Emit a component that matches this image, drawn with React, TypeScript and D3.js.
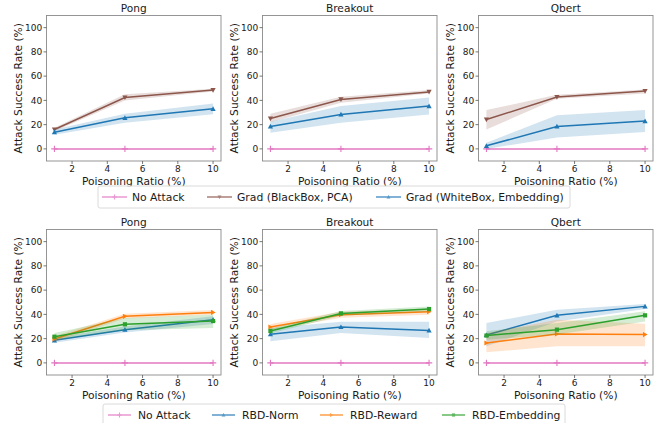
import React from "react";
import * as d3 from "d3";

const X = [1, 5, 10];
const GAMES = ["Pong", "Breakout", "Qbert"];
const X_TICKS = [2, 4, 6, 8, 10];
const Y_TICKS = [0, 20, 40, 60, 80, 100];

// Top row (Grad attacks)
const NO_ATTACK = [0, 0, 0];
const GRAD_PCA_MEAN = [[16, 42.4, 48.5], [25, 40.8, 47], [24.2, 42.7, 47.7]];
const GRAD_PCA_LO = [[14.5, 40, 47.3], [22, 38, 45.7], [16, 41.3, 45.7]];
const GRAD_PCA_HI = [[17.5, 45, 49.5], [29, 43, 48.5], [32, 44.6, 49]];
const GRAD_EMB_MEAN = [[13.8, 25.6, 33], [18.5, 28.4, 35.3], [2.5, 18.5, 22.9]];
const GRAD_EMB_LO = [[11.6, 21.5, 28.6], [13.2, 21.5, 28.4], [0, 9.4, 14]];
const GRAD_EMB_HI = [[16, 29, 37.5], [22.3, 35.3, 42.4], [5, 27.8, 32]];

// Bottom row (RBD attacks)
const RBD_NORM_MEAN = [[18.6, 27.4, 35.6], [23.6, 29.6, 26.8], [23, 39.2, 46.6]];
const RBD_NORM_LO = [[16.5, 25, 32], [17.8, 24.7, 20.5], [13.7, 34.2, 44.4]];
const RBD_NORM_HI = [[21, 30, 38.5], [28.8, 34, 34], [32.9, 43.8, 48.5]];
const RBD_REWARD_MEAN = [[19.7, 38.4, 41.6], [29.6, 39.7, 42.2], [16.4, 23.8, 23.3]];
const RBD_REWARD_LO = [[17.5, 36.5, 39.6], [27, 37.2, 39.7], [8.8, 13.7, 13.7]];
const RBD_REWARD_HI = [[22, 40.5, 43.6], [32, 42.2, 44.7], [24.7, 35.6, 32.3]];
const RBD_EMB_MEAN = [[21.6, 31.8, 34.5], [26.3, 40.8, 44.4], [22.5, 27.4, 39.2]];
const RBD_EMB_LO = [[18.6, 27, 28.8], [24.3, 38.8, 42.4], [19, 23.3, 34.2]];
const RBD_EMB_HI = [[24.6, 37, 39.7], [28.3, 42.8, 46.4], [26, 32.9, 42.5]];

type Series = { name: string; color: string; marker: string; mean: number[][]; lo: number[][] | null; hi: number[][] | null };

const TOP_SERIES: Series[] = [
  { name: "No Attack", color: "#e377c2", marker: "+", mean: [NO_ATTACK, NO_ATTACK, NO_ATTACK], lo: null, hi: null },
  { name: "Grad (BlackBox, PCA)", color: "#8c564b", marker: "v", mean: GRAD_PCA_MEAN, lo: GRAD_PCA_LO, hi: GRAD_PCA_HI },
  { name: "Grad (WhiteBox, Embedding)", color: "#1f77b4", marker: "^", mean: GRAD_EMB_MEAN, lo: GRAD_EMB_LO, hi: GRAD_EMB_HI },
];
const BOTTOM_SERIES: Series[] = [
  { name: "No Attack", color: "#e377c2", marker: "+", mean: [NO_ATTACK, NO_ATTACK, NO_ATTACK], lo: null, hi: null },
  { name: "RBD-Norm", color: "#1f77b4", marker: "^", mean: RBD_NORM_MEAN, lo: RBD_NORM_LO, hi: RBD_NORM_HI },
  { name: "RBD-Reward", color: "#ff7f0e", marker: ">", mean: RBD_REWARD_MEAN, lo: RBD_REWARD_LO, hi: RBD_REWARD_HI },
  { name: "RBD-Embedding", color: "#2ca02c", marker: "s", mean: RBD_EMB_MEAN, lo: RBD_EMB_LO, hi: RBD_EMB_HI },
];

// layout
const PANEL_LEFTS = [46.5, 262.5, 478.5];
const PANEL_W = 174.5;
const ROW_TOPS = [15.5, 229.5];
const PANEL_H = 145.5;
const FONT = "'DejaVu Sans', sans-serif";
const TEXT = "#1a1a1a";

const LEGENDS = [
  { box: [98, 186, 472, 22], handles: [102, 207, 376], hlen: 25, series: TOP_SERIES },
  { box: [103, 404, 462, 22], handles: [108, 212, 320, 442], hlen: 23, series: BOTTOM_SERIES },
];

function Marker({ type, x, y, color, k = 1 }: { type: string; x: number; y: number; color: string; k?: number }) {
  const s = 2.6 * k;
  if (type === "+") {
    const r = 3.2 * k;
    return <path d={`M${x - r},${y}H${x + r}M${x},${y - r}V${y + r}`} stroke={color} strokeWidth={1.1} fill="none" />;
  }
  if (type === "s") {
    const h = 2.1 * k;
    return <rect x={x - h} y={y - h} width={2 * h} height={2 * h} fill={color} />;
  }
  let pts: number[][] = [];
  if (type === "v") pts = [[x - s, y - s * 0.8], [x + s, y - s * 0.8], [x, y + s]];
  if (type === "^") pts = [[x - s, y + s * 0.8], [x + s, y + s * 0.8], [x, y - s]];
  if (type === ">") pts = [[x - s * 0.8, y - s], [x - s * 0.8, y + s], [x + s, y]];
  return <polygon points={pts.map((p) => p.join(",")).join(" ")} fill={color} />;
}

function Panel({ gi, row, series }: { gi: number; row: number; series: Series[] }) {
  const left = PANEL_LEFTS[gi];
  const top = ROW_TOPS[row];
  const xs = d3.scaleLinear().domain([0.55, 10.45]).range([left, left + PANEL_W]);
  const ys = d3.scaleLinear().domain([-10, 110]).range([top + PANEL_H, top]);
  const line = d3.line<number>().x((_, i) => xs(X[i])).y((d) => ys(d));
  const bottom = top + PANEL_H;
  return (
    <g>
      <defs>
        <clipPath id={`clip-${row}-${gi}`}>
          <rect x={left} y={top} width={PANEL_W} height={PANEL_H} />
        </clipPath>
      </defs>
      <g clipPath={`url(#clip-${row}-${gi})`}>
        {series.map((s, si) => {
          const lo = s.lo;
          const hi = s.hi;
          const area = lo && hi
            ? d3.area<number>().x((_, i) => xs(X[i])).y0((_, i) => ys(lo[gi][i])).y1((_, i) => ys(hi[gi][i]))(X)
            : null;
          return (
            <g key={si}>
              {area && <path d={area!} fill={s.color} fillOpacity={0.2} stroke="none" />}
              <path d={line(s.mean[gi])!} fill="none" stroke={s.color} strokeWidth={1.5} />
              {s.mean[gi].map((v, i) => (
                <Marker key={i} type={s.marker} x={xs(X[i])} y={ys(v)} color={s.color} />
              ))}
            </g>
          );
        })}
      </g>
      <rect x={left} y={top} width={PANEL_W} height={PANEL_H} fill="none" stroke="#8a8a8a" strokeWidth={0.9} />
      {X_TICKS.map((t) => (
        <g key={t}>
          <line x1={xs(t)} x2={xs(t)} y1={bottom} y2={bottom + 3} stroke="#555" strokeWidth={0.8} />
          <text x={xs(t)} y={bottom + 10.8} textAnchor="middle" fontSize={9} fill={TEXT} fontFamily={FONT}>{t}</text>
        </g>
      ))}
      {Y_TICKS.map((t) => (
        <g key={t}>
          <line x1={left - 3} x2={left} y1={ys(t)} y2={ys(t)} stroke="#555" strokeWidth={0.8} />
          <text x={left - 4.3} y={ys(t) + 3.2} textAnchor="end" fontSize={9} fill={TEXT} fontFamily={FONT}>{t}</text>
        </g>
      ))}
      <text x={left + PANEL_W / 2} y={top - 4} textAnchor="middle" fontSize={10.6} fill={TEXT} fontFamily={FONT}>{GAMES[gi]}</text>
      <text x={left + PANEL_W / 2} y={bottom + 24} textAnchor="middle" fontSize={10.7} fill={TEXT} fontFamily={FONT}>Poisoning Ratio (%)</text>
      <text transform={`translate(${left - 24.4},${top + PANEL_H / 2}) rotate(-90)`} textAnchor="middle" fontSize={10.7} fill={TEXT} fontFamily={FONT}>Attack Success Rate (%)</text>
    </g>
  );
}

function Legend({ spec }: { spec: typeof LEGENDS[number] }) {
  const [bx, by, bw, bh] = spec.box;
  const cy = by + bh / 2;
  return (
    <g>
      <rect x={bx} y={by} width={bw} height={bh} rx={2} fill="white" fillOpacity={0.8} stroke="#d0d0d0" strokeWidth={0.8} />
      {spec.series.map((s, i) => {
        const hx = spec.handles[i];
        return (
          <g key={i}>
            <g opacity={0.75}>
              <line x1={hx} x2={hx + spec.hlen} y1={cy} y2={cy} stroke={s.color} strokeWidth={1.5} />
              <Marker type={s.marker} x={hx + spec.hlen / 2} y={cy} color={s.color} k={0.75} />
            </g>
            <text x={hx + 30} y={cy + 3.8} fontSize={10.8} fill={TEXT} fontFamily={FONT}>{s.name}</text>
          </g>
        );
      })}
    </g>
  );
}

export default function App() {
  return (
    <svg width={663} height={423} style={{ position: "absolute", left: 0, top: 0, background: "white" }}>
      <rect x={0} y={0} width={663} height={423} fill="white" />
      {GAMES.map((_, gi) => (
        <Panel key={`t${gi}`} gi={gi} row={0} series={TOP_SERIES} />
      ))}
      {GAMES.map((_, gi) => (
        <Panel key={`b${gi}`} gi={gi} row={1} series={BOTTOM_SERIES} />
      ))}
      {LEGENDS.map((l, i) => (
        <Legend key={i} spec={l} />
      ))}
    </svg>
  );
}
